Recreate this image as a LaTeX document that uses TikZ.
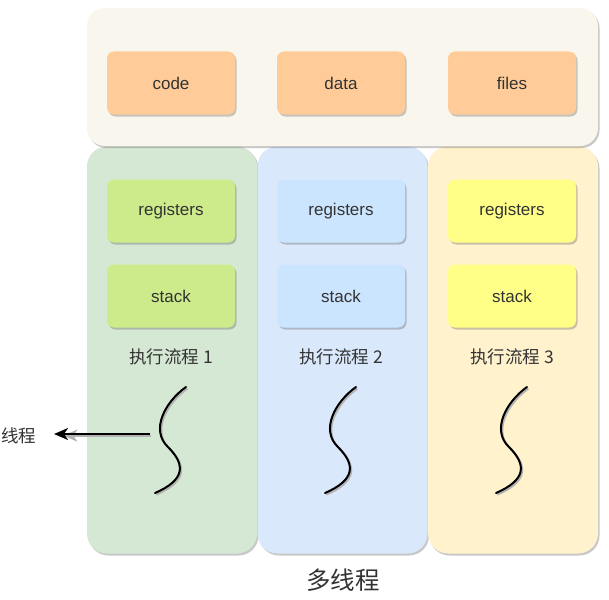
\documentclass[tikz,border=0pt]{standalone}
\usepackage{fontspec}
\setmainfont{Liberation Sans}
\newfontfamily\cjk{Noto Sans CJK SC}
\usetikzlibrary{shadows,arrows.meta}

\definecolor{procbg}{HTML}{F9F7ED}
\definecolor{shared}{HTML}{FFCC99}
\definecolor{greencol}{HTML}{D5E8D4}
\definecolor{greenbox}{HTML}{CDEB8B}
\definecolor{bluecol}{HTML}{DAE8FC}
\definecolor{bluebox}{HTML}{CCE5FF}
\definecolor{yellowcol}{HTML}{FFF2CC}
\definecolor{yellowbox}{HTML}{FFFF88}
\definecolor{txt}{HTML}{333333}

\tikzset{
	shade/.style={drop shadow={shadow xshift=1.5pt, shadow yshift=-2pt, opacity=0.3, fill=black!70}},
	column/.style={shade, rounded corners=20pt, minimum width=170pt, minimum height=407pt, inner sep=0pt},
	part/.style={shade, rounded corners=7pt, minimum width=128pt, minimum height=63pt, inner sep=0pt,
		text=txt, font=\fontsize{17}{20}\selectfont},
	flowlabel/.style={text=txt, font=\cjk\fontsize{17.5}{21}\selectfont},
	thread/.style={line width=2pt, line cap=round,
		preaction={draw=black!30, line width=2pt, transform canvas={shift={(1.3pt,-1.6pt)}}}}
}

\begin{document}
\begin{tikzpicture}[x=1pt,y=-1pt]
		\useasboundingbox[fill=white] (0,0) rectangle (609,599);

		% the three execution flows
		\node[column, fill=greencol] (col1) at (172,350) {};
		\node[column, fill=bluecol] (col2) at (342.5,350) {};
		\node[column, fill=yellowcol] (col3) at (513,350) {};

		% shared part of the process
		\node[shade, fill=procbg, rounded corners=18pt, minimum width=511pt, minimum height=138pt] (proc) at (342.5,77) {};
		\node[part, fill=shared] (code) at (171,83) {code};
		\node[part, fill=shared] (data) at (341,83) {data};
		\node[part, fill=shared] (files) at (512,83) {files};

		\node[part, fill=greenbox] (reg1) at (171,211) {registers};
		\node[part, fill=bluebox] (reg2) at (341,211) {registers};
		\node[part, fill=yellowbox] (reg3) at (512,211) {registers};

		\node[part, fill=greenbox] (stack1) at (171,296) {stack};
		\node[part, fill=bluebox] (stack2) at (341,296) {stack};
		\node[part, fill=yellowbox] (stack3) at (512,296) {stack};

		\node[flowlabel] (flow1) at (171,357) {执行流程 1};
		\node[flowlabel] (flow2) at (341,357) {执行流程 2};
		\node[flowlabel] (flow3) at (512,357) {执行流程 3};

		% threads
		\draw[thread] (186,387) .. controls (165,402) and (150,430) .. (168,447)
			.. controls (186,465) and (185,480) .. (155,493);
		\draw[thread] (356,387) .. controls (335,402) and (320,430) .. (338,447)
			.. controls (356,465) and (355,480) .. (325,493);
		\draw[thread] (527,387) .. controls (506,402) and (491,430) .. (509,447)
			.. controls (527,465) and (526,480) .. (496,493);

		\coordinate (from1) at (150,434);
		\node[flowlabel] (name) at (19,436) {线程};
		\draw[-{Stealth[length=14pt,width=12pt,inset=4pt]}, line width=2pt, shorten >=14pt,
			preaction={draw=black!30, line width=2pt, shorten >=22pt, transform canvas={shift={(1.3pt,-1.6pt)}}}]
			(from1) -- (from1 -| name.east);

		\node[text=txt, font=\cjk\fontsize{24.5}{28}\selectfont] (title) at (343,580) {多线程};
\end{tikzpicture}
\end{document}
